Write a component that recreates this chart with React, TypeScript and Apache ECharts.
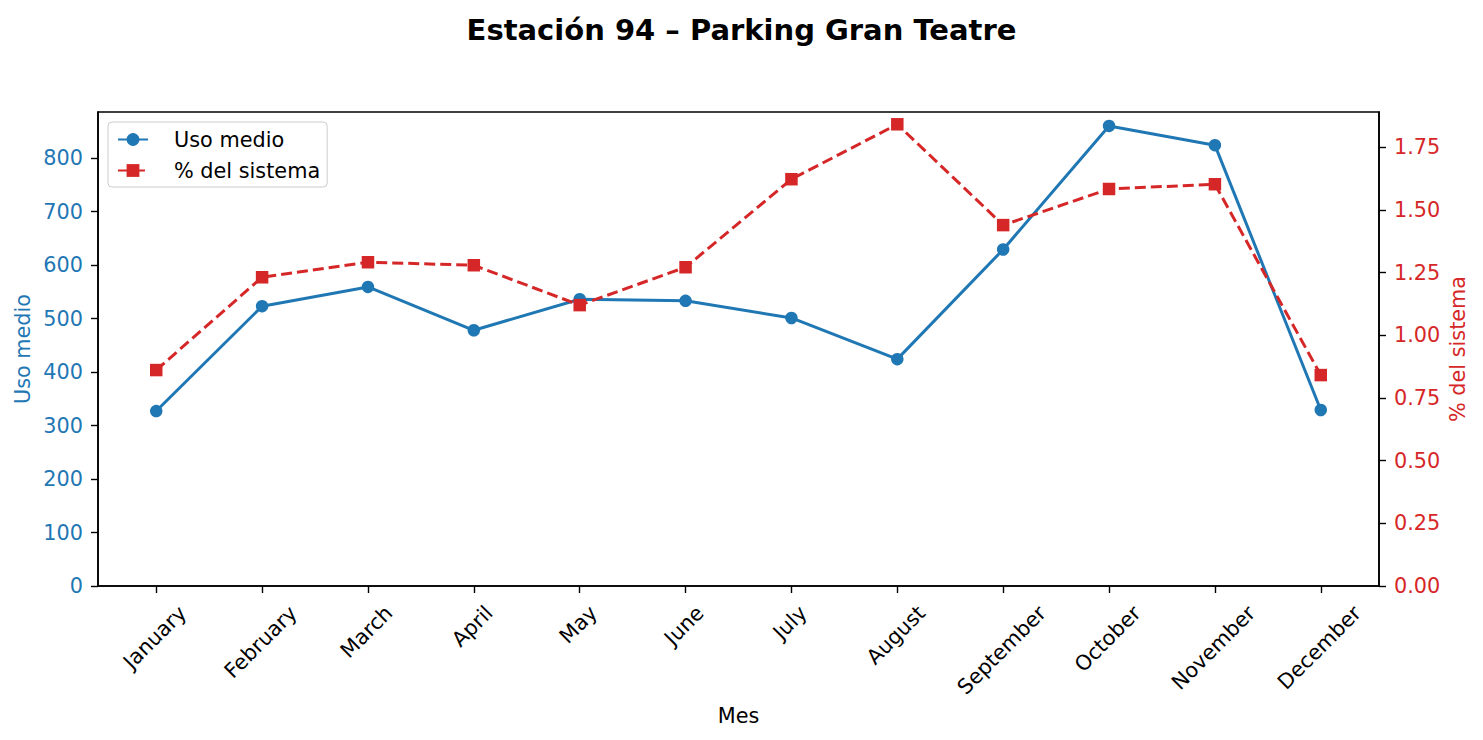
import { useEffect, useRef } from "react";
import * as echarts from "echarts";

const months = [
  "January", "February", "March", "April", "May", "June",
  "July", "August", "September", "October", "November", "December",
];
const usoMedio = [327, 523, 559, 478, 536, 533, 501, 424, 629, 860, 824, 329];
const pctSistema = [0.861, 1.231, 1.291, 1.279, 1.12, 1.271, 1.622, 1.841, 1.439, 1.583, 1.602, 0.841];
const leftTicks = [0, 100, 200, 300, 400, 500, 600, 700, 800];
const rightTicks = [0, 0.25, 0.5, 0.75, 1.0, 1.25, 1.5, 1.75];

const FONT = "DejaVu Sans";
const FS = 20.8;
const BLUE = "#1f77b4";
const RED = "#d62728";

export default function App() {
  const ref = useRef<HTMLDivElement>(null);
  useEffect(() => {
    document.body.style.margin = "0";
    const chart = echarts.init(ref.current!, null, { renderer: "svg" });
    const canvas = document.createElement("canvas");
    const ctx = canvas.getContext("2d")!;
    ctx.font = `${FS}px "${FONT}"`;
    const rich: Record<string, any> = {};
    months.forEach((m, i) => {
      const w = ctx.measureText(m).width;
      const D = 6.6 + 0.354 * (w + 21);
      const P = 1.414 * D;
      rich["m" + i] = { fontFamily: FONT, fontSize: FS, color: "#000", padding: [P, P + 4, 0, 0] };
    });
    const axisLineStyle = { color: "#000", width: 1.6 };
    const tickStyle = { color: "#000", width: 1.4 };
    const xIdx = months.map((_, i) => i);
    chart.setOption({
      animation: false,
      backgroundColor: "#fff",
      title: {
        text: "Estación 94 – Parking Gran Teatre",
        left: "center",
        top: 15,
        padding: 0,
        textStyle: { fontFamily: FONT, fontSize: 29, fontWeight: "bold", color: "#000" },
      },
      legend: {
        orient: "vertical",
        left: 108,
        top: 122,
        padding: [7, 7, 6, 9],
        itemGap: 10,
        itemWidth: 30,
        itemHeight: 16,
        backgroundColor: "rgba(255,255,255,0.8)",
        borderColor: "#cccccc",
        borderWidth: 1,
        borderRadius: 4,
        textStyle: { fontFamily: FONT, fontSize: FS, color: "#000", padding: [0, 0, 0, 21] },
        data: ["Uso medio", "% del sistema"],
      },
      grid: {
        left: 98,
        right: 104,
        top: 112,
        bottom: 154,
        show: true,
        borderColor: "#000",
        borderWidth: 1.6,
        backgroundColor: "transparent",
      },
      xAxis: {
        type: "value",
        min: -0.55,
        max: 11.55,
        name: "Mes",
        nameLocation: "middle",
        nameGap: 119,
        nameMoveOverlap: false,
        nameTextStyle: { fontFamily: FONT, fontSize: FS, color: "#000" },
        axisLine: { show: true, onZero: false, lineStyle: axisLineStyle },
        axisTick: { show: true, length: 7, lineStyle: tickStyle, customValues: xIdx },
        axisLabel: {
          customValues: xIdx,
          rotate: 45,
          align: "center",
          verticalAlign: "middle",
          margin: 8,
          formatter: (v: number) => {
            const i = Math.round(v);
            return `{m${i}|${months[i]}}`;
          },
          rich,
        },
        splitLine: { show: false },
      },
      yAxis: [
        {
          type: "value",
          min: 0,
          max: 886,
          position: "left",
          name: "Uso medio",
          nameLocation: "middle",
          nameGap: 65,
          nameRotate: 90,
          nameMoveOverlap: false,
          nameTextStyle: { fontFamily: FONT, fontSize: FS, color: BLUE },
          axisLine: { show: true, onZero: false, lineStyle: axisLineStyle },
          axisTick: { show: true, length: 7, lineStyle: tickStyle, customValues: leftTicks },
          axisLabel: {
            customValues: leftTicks,
            color: BLUE,
            fontFamily: FONT,
            fontSize: FS,
            margin: 15,
          },
          splitLine: { show: false },
        },
        {
          type: "value",
          min: 0,
          max: 1.89,
          position: "right",
          name: "% del sistema",
          nameLocation: "middle",
          nameGap: 68,
          nameRotate: 90,
          nameMoveOverlap: false,
          nameTextStyle: { fontFamily: FONT, fontSize: FS, color: RED },
          axisLine: { show: true, onZero: false, lineStyle: axisLineStyle },
          axisTick: { show: true, length: 7, lineStyle: tickStyle, customValues: rightTicks },
          axisLabel: {
            customValues: rightTicks,
            color: RED,
            fontFamily: FONT,
            fontSize: FS,
            margin: 15,
            formatter: (v: number) => v.toFixed(2),
          },
          splitLine: { show: false },
        },
      ],
      series: [
        {
          name: "Uso medio",
          type: "line",
          yAxisIndex: 0,
          data: usoMedio.map((v, i) => [i, v]),
          symbol: "circle",
          symbolSize: 12.5,
          color: BLUE,
          lineStyle: { color: BLUE, width: 3 },
          itemStyle: { color: BLUE },
        },
        {
          name: "% del sistema",
          type: "line",
          yAxisIndex: 1,
          data: pctSistema.map((v, i) => [i, v]),
          symbol: "rect",
          symbolSize: 12.5,
          color: RED,
          lineStyle: { color: RED, width: 3, type: [11, 5] },
          itemStyle: { color: RED },
        },
      ],
    });
    return () => chart.dispose();
  }, []);
  return (
    <div
      ref={ref}
      style={{ position: "fixed", left: 0, top: 0, width: 1483, height: 740 }}
    />
  );
}
